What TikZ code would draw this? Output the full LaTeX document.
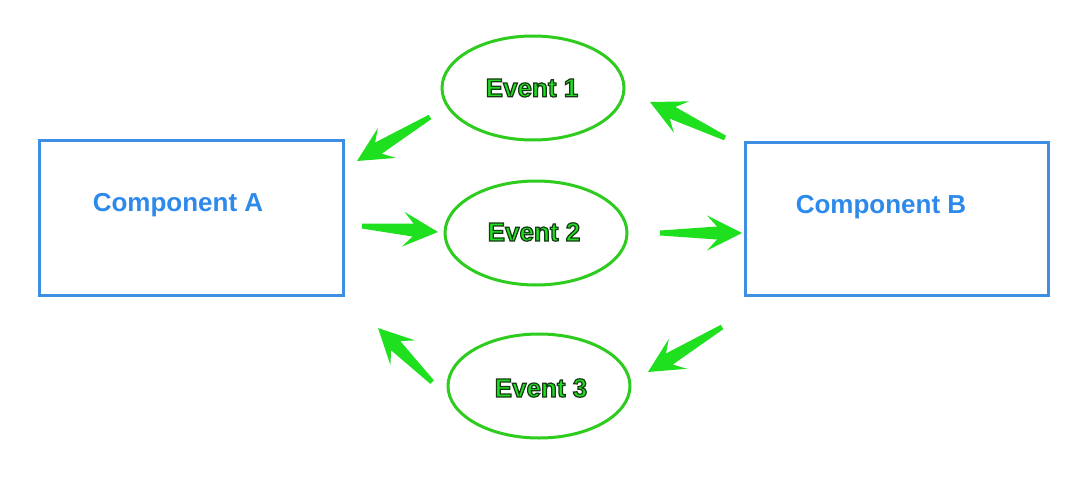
\documentclass[tikz,border=0pt]{standalone}
\usepackage{fontspec}
\setmainfont{Liberation Sans}
\usetikzlibrary{shapes.geometric,calc}
\definecolor{boxblue}{HTML}{3D8FE3}
\definecolor{txtblue}{HTML}{2E8AEA}
\definecolor{ellgreen}{HTML}{2ECC1E}
\definecolor{arrgreen}{HTML}{1FE01F}
\definecolor{evgreen}{HTML}{22DD22}
\newcommand\evtext[1]{\special{pdf:literal direct 2 Tr 1.2 w 0.08 0.22 0.08 RG}#1\special{pdf:literal direct 0 Tr}}
\newcommand\fatarrow[2]{%
 \fill[arrowfill] let \p1=($(#2)-(#1)$), \n1={atan2(\y1,\x1)} in
 ($(#1)+(\n1+90:2.5pt)$) -- ($(#2)+(\n1+180:25pt)+(\n1+90:6.5pt)$) --
 ($(#2)+(\n1+180:35pt)+(\n1+90:17.5pt)$) -- (#2) --
 ($(#2)+(\n1+180:35pt)+(\n1-90:17.5pt)$) -- ($(#2)+(\n1+180:25pt)+(\n1-90:6.5pt)$) --
 ($(#1)+(\n1-90:2.5pt)$) -- cycle;}
\begin{document}
\begin{tikzpicture}[x=1pt,y=-1pt,
  compbox/.style={draw=boxblue,line width=3pt,rectangle,inner sep=0pt},
  complabel/.style={text=txtblue,font=\fontsize{26}{30}\selectfont\bfseries,inner sep=0pt},
  evell/.style={draw=ellgreen,line width=3pt,ellipse,inner sep=0pt,minimum width=182pt,minimum height=104pt},
  evlabel/.style={text=evgreen,font=\fontsize{26}{30}\selectfont\bfseries,inner sep=0pt},
  arrowfill/.style={fill=arrgreen}]
\useasboundingbox (0,0) rectangle (1092,479);
\fill[white] (0,0) rectangle (1092,479);
% components
\node[compbox,minimum width=304pt,minimum height=155pt] (A) at (191,217.5) {};
\node[complabel] (Alabel) at (178,205) {Component A};
\node[compbox,minimum width=303pt,minimum height=153pt] (B) at (896.5,218.5) {};
\node[complabel] (Blabel) at (881,207) {Component B};
% events
\node[evell] (E1) at (533,88) {};
\node[evlabel] (E1label) at (532,88) {\evtext{Event 1}};
\node[evell] (E2) at (536,233) {};
\node[evlabel] (E2label) at (534,232) {\evtext{Event 2}};
\node[evell] (E3) at (539,386) {};
\node[evlabel] (E3label) at (541,388) {\evtext{Event 3}};
% arrow ends
\coordinate (a1t) at (430,117); \coordinate (a1h) at (357,161);
\coordinate (a2t) at (362,226); \coordinate (a2h) at (438,232);
\coordinate (a3t) at (432,382); \coordinate (a3h) at (378,328);
\coordinate (a4t) at (725,138); \coordinate (a4h) at (650,102);
\coordinate (a5t) at (660,233); \coordinate (a5h) at (742,233);
\coordinate (a6t) at (722,327); \coordinate (a6h) at (648,372);
\fatarrow{a1t}{a1h}
\fatarrow{a2t}{a2h}
\fatarrow{a3t}{a3h}
\fatarrow{a4t}{a4h}
\fatarrow{a5t}{a5h}
\fatarrow{a6t}{a6h}
\end{tikzpicture}
\end{document}
